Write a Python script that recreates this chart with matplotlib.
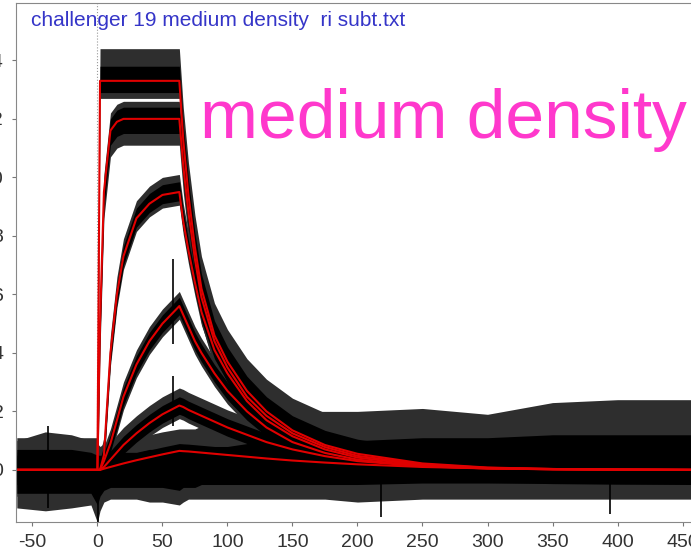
import matplotlib
matplotlib.use("Agg")
import matplotlib.pyplot as plt

# time grid (s) shared by all traces
T = [-62, -40, -20, -5, 0, 2, 5, 10, 15, 20, 30, 40, 50, 63, 66, 70, 75, 80,
     90, 100, 115, 130, 150, 175, 200, 250, 300, 350, 400, 457]

# fitted responses (red) for each concentration
fit1 = [0, 0, 0, 0, 0, 13.3, 13.3, 13.3, 13.3, 13.3, 13.3, 13.3, 13.3, 13.3, 11.3, 9.4,
        7.6, 6.2, 4.6, 3.7, 2.7, 2.0, 1.35, 0.85, 0.55, 0.22, 0.08, 0.03, 0.01, 0]
fit2 = [0, 0, 0, 0, 0, 5.0, 9.5, 11.6, 11.9, 12.0, 12.0, 12.0, 12.0, 12.0, 10.4, 8.8,
        7.2, 5.9, 4.4, 3.5, 2.5, 1.85, 1.25, 0.78, 0.48, 0.19, 0.07, 0.03, 0.01, 0]
fit3 = [0, 0, 0, 0, 0, 0, 0.5, 4.0, 6.0, 7.3, 8.6, 9.1, 9.4, 9.5, 8.5, 7.5,
        6.4, 5.4, 4.1, 3.3, 2.35, 1.7, 1.15, 0.7, 0.42, 0.16, 0.06, 0.02, 0.01, 0]
fit4 = [0, 0, 0, 0, 0, 0, 0.3, 0.9, 1.7, 2.5, 3.6, 4.4, 5.0, 5.6, 5.3, 4.9,
        4.4, 4.0, 3.3, 2.7, 2.0, 1.45, 0.95, 0.58, 0.35, 0.13, 0.05, 0.02, 0.01, 0]
fit5 = [0, 0, 0, 0, 0, 0, 0.1, 0.35, 0.6, 0.85, 1.25, 1.6, 1.9, 2.2, 2.15, 2.05,
        1.95, 1.85, 1.65, 1.45, 1.2, 0.95, 0.7, 0.47, 0.3, 0.12, 0.05, 0.02, 0.01, 0]
fit6 = [0, 0, 0, 0, 0, 0, 0.04, 0.1, 0.16, 0.22, 0.33, 0.43, 0.53, 0.65, 0.64, 0.63,
        0.61, 0.59, 0.55, 0.51, 0.45, 0.39, 0.32, 0.25, 0.19, 0.1, 0.05, 0.03, 0.01, 0]
fits = [fit1, fit2, fit3, fit4, fit5, fit6]

# spread of the raw data round each fit: outer (sparse spikes) and core (dense)
noise_lo = [0.6, 0.9, 0.45, 0.45, 0.45, 0.4]
noise_hi = [1.1, 0.6, 0.6, 0.5, 0.6, 0.5]
core_lo = [0.4, 0.5, 0.3, 0.3, 0.3, 0.25]
core_hi = [0.5, 0.4, 0.35, 0.3, 0.3, 0.25]

# baseline noise: sparse envelope and dense core
base_lo = [-1.3, -1.4, -1.3, -1.2, -1.8, -1.4, -1.1, -1.0, -1.0, -1.0, -1.0, -1.1, -1.1, -1.2, -1.1,
           -1.0, -1.0, -1.0, -1.0, -1.0, -1.0, -1.0, -1.0, -1.0, -1.1, -1.0, -1.0, -1.0, -1.0, -1.0]
base_hi = [1.0, 1.3, 1.2, 1.0, 0.9, 0.8, 0.9, 1.0, 1.1, 1.1, 1.2, 1.2, 1.3, 1.4, 1.4,
           1.4, 1.4, 1.5, 1.5, 1.5, 1.7, 1.9, 2.0, 2.0, 2.0, 2.1, 1.9, 2.3, 2.4, 2.4]
base_core_lo = [-0.8, -0.8, -0.8, -0.8, -1.2, -0.9, -0.7, -0.6, -0.6, -0.6, -0.6, -0.6, -0.6, -0.7, -0.6,
                -0.6, -0.6, -0.5, -0.5, -0.5, -0.5, -0.5, -0.5, -0.5, -0.5, -0.45, -0.45, -0.45, -0.45, -0.45]
base_core_hi = [0.7, 0.7, 0.7, 0.6, 0.5, 0.5, 0.5, 0.6, 0.6, 0.6, 0.6, 0.7, 0.7, 0.7, 0.7,
                0.7, 0.7, 0.8, 0.8, 0.8, 0.9, 1.0, 1.0, 1.0, 1.0, 1.1, 1.1, 1.2, 1.2, 1.2]

# isolated spikes in the raw data
spike_t = [-38, 0.5, 58, 58, 218, 394]
spike_lo = [-1.3, -2.0, 4.3, 1.5, -1.6, -1.5]
spike_hi = [1.5, 0.5, 7.2, 3.2, 0.5, 0.5]

xticks = [-50, 0, 50, 100, 150, 200, 250, 300, 350, 400, 450]
yticks = [0, 2, 4, 6, 8, 10, 12, 14]


def main():
    plt.rcParams["font.family"] = ["Liberation Sans", "DejaVu Sans"]
    fig = plt.figure(figsize=(6.91, 5.5), dpi=100)
    ax = fig.add_axes([0.023, 0.051, 0.977, 0.944])

    sparse = "#2e2e2e"
    ax.fill_between(T, base_lo, base_hi, color=sparse, lw=0)
    for f, lo, hi in zip(fits, noise_lo, noise_hi):
        ax.fill_between(T, [v - lo for v in f], [v + hi for v in f], color=sparse, lw=0)
    ax.fill_between(T, base_core_lo, base_core_hi, color="black", lw=0)
    for f, lo, hi in zip(fits, core_lo, core_hi):
        ax.fill_between(T, [v - lo for v in f], [v + hi for v in f], color="black", lw=0)
    ax.vlines(spike_t, spike_lo, spike_hi, color="black", lw=1.2)

    for f in fits:
        ax.plot(T, f, color="#e00000", lw=1.5)

    ax.axvline(0, color="#999999", ls=":", lw=0.8, zorder=0)

    ax.set_xlim(-62.7, 456.5)
    ax.set_ylim(-1.78, 15.97)
    ax.set_xticks(xticks)
    ax.set_yticks(yticks)
    ax.set_xticklabels([str(v) for v in xticks])
    ax.set_yticklabels([str(v) for v in yticks])
    ax.tick_params(labelsize=14, labelcolor="#333333", color="#777777", length=3, pad=6)
    for side in ["left", "bottom", "top"]:
        ax.spines[side].set_color("#888888")
    ax.spines["right"].set_visible(False)

    ax.text(-51, 15.35, "challenger 19 medium density  ri subt.txt", color="#3535c8",
            fontsize=15, va="center", ha="left")
    ax.text(79, 11.35, "medium density", color="#ff38cc", fontsize=50,
            ha="left", va="baseline")

    fig.savefig("out.png", dpi=100)


if __name__ == "__main__":
    main()
